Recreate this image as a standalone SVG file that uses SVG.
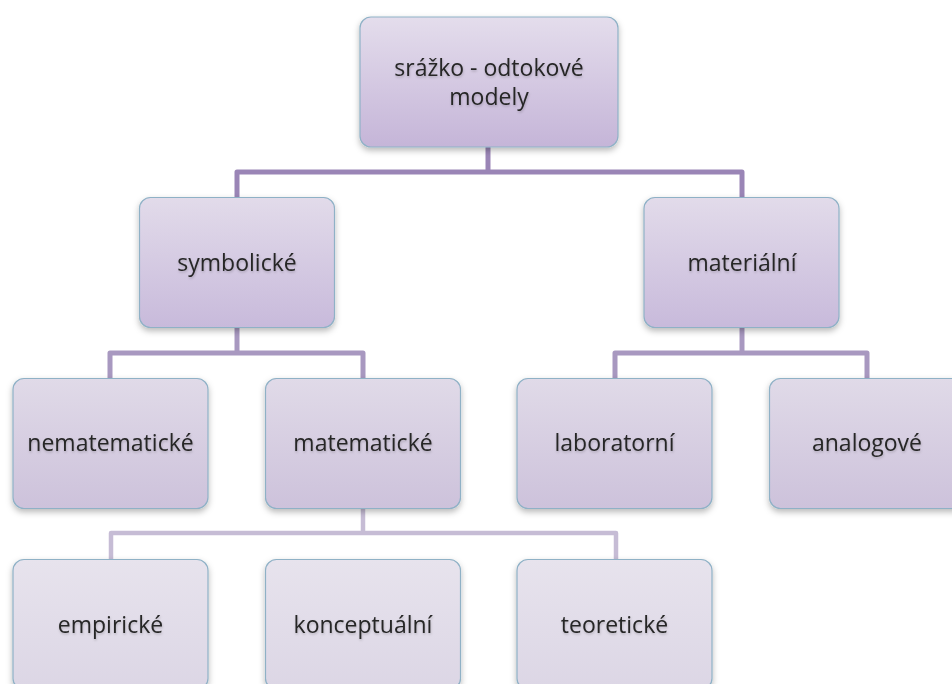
<svg xmlns="http://www.w3.org/2000/svg" width="952" height="684" viewBox="0 0 952 684">
  <defs>
    <linearGradient id="g1" x1="0" y1="0" x2="0" y2="1">
      <stop offset="0" stop-color="#e4ddec"/>
      <stop offset="1" stop-color="#c5b5d8"/>
    </linearGradient>
    <linearGradient id="g2" x1="0" y1="0" x2="0" y2="1">
      <stop offset="0" stop-color="#e2dbea"/>
      <stop offset="1" stop-color="#c8badb"/>
    </linearGradient>
    <linearGradient id="g3" x1="0" y1="0" x2="0" y2="1">
      <stop offset="0" stop-color="#e0dae8"/>
      <stop offset="1" stop-color="#cdc2db"/>
    </linearGradient>
    <linearGradient id="g4" x1="0" y1="0" x2="0" y2="1">
      <stop offset="0" stop-color="#e7e3ed"/>
      <stop offset="1" stop-color="#dcd6e5"/>
    </linearGradient>
    <filter id="sh" x="-10%" y="-10%" width="120%" height="130%">
      <feDropShadow dx="0" dy="3" stdDeviation="3" flood-color="#000" flood-opacity="0.28"/>
    </filter>
    <filter id="ts" x="-5%" y="-20%" width="110%" height="140%">
      <feDropShadow dx="0.5" dy="1.5" stdDeviation="1.2" flood-color="#000" flood-opacity="0.2"/>
    </filter>
  </defs>
  <style>
    .box { stroke: #8fb1c6; stroke-width: 1.2; filter: url(#sh); }
    .l1 { fill: url(#g1); }
    .l2 { fill: url(#g2); }
    .l3 { fill: url(#g3); }
    .l4 { fill: url(#g4); }
    text { font-family: "Open Sans", "Liberation Sans", Arial, sans-serif; font-size: 23px; fill: #262626; text-anchor: middle; filter: url(#ts); }
    .c1 { fill: none; stroke: #9a85b6; stroke-width: 5; stroke-linejoin: round; }
    .c2 { fill: none; stroke: #a898c0; stroke-width: 5; stroke-linejoin: round; }
    .c3 { fill: none; stroke: #c6bcd5; stroke-width: 4.5; stroke-linejoin: round; }
  </style>
  <rect width="952" height="684" fill="#ffffff"/>

  <g id="connectors">
    <path class="c1" d="M488,147 V172"/>
    <path class="c1" d="M237,197 V172 H742 V197"/>
    <path class="c2" d="M237,328 V353"/>
    <path class="c2" d="M110,378 V353 H363 V378"/>
    <path class="c2" d="M742,328 V353"/>
    <path class="c2" d="M615,378 V353 H867 V378"/>
    <path class="c3" d="M363,509 V533"/>
    <path class="c3" d="M111,559 V533 H616 V559"/>
  </g>

  <g id="n-root">
    <rect class="box l1" x="360" y="17" width="258" height="130" rx="11"/>
    <text x="489" y="76">srážko - odtokové</text>
    <text x="489" y="105">modely</text>
  </g>
  <g id="n-symbolicke">
    <rect class="box l2" x="139.5" y="197.5" width="195" height="130" rx="11"/>
    <text x="237" y="271">symbolické</text>
  </g>
  <g id="n-materialni">
    <rect class="box l2" x="644" y="197.5" width="195" height="130" rx="11"/>
    <text x="742" y="271">materiální</text>
  </g>
  <g id="n-nematematicke">
    <rect class="box l3" x="13" y="378.5" width="195" height="130" rx="11"/>
    <text x="110.5" y="451">nematematické</text>
  </g>
  <g id="n-matematicke">
    <rect class="box l3" x="265.5" y="378.5" width="195" height="130" rx="11"/>
    <text x="363" y="451">matematické</text>
  </g>
  <g id="n-laboratorni">
    <rect class="box l3" x="517" y="378.5" width="195" height="130" rx="11"/>
    <text x="614.5" y="451">laboratorní</text>
  </g>
  <g id="n-analogove">
    <rect class="box l3" x="769.5" y="378.5" width="195" height="130" rx="11"/>
    <text x="867" y="451">analogové</text>
  </g>
  <g id="n-empiricke">
    <rect class="box l4" x="13" y="559.5" width="195" height="130" rx="11"/>
    <text x="110.5" y="633">empirické</text>
  </g>
  <g id="n-konceptualni">
    <rect class="box l4" x="265.5" y="559.5" width="195" height="130" rx="11"/>
    <text x="363" y="633">konceptuální</text>
  </g>
  <g id="n-teoreticke">
    <rect class="box l4" x="517" y="559.5" width="195" height="130" rx="11"/>
    <text x="614.5" y="633">teoretické</text>
  </g>
</svg>
